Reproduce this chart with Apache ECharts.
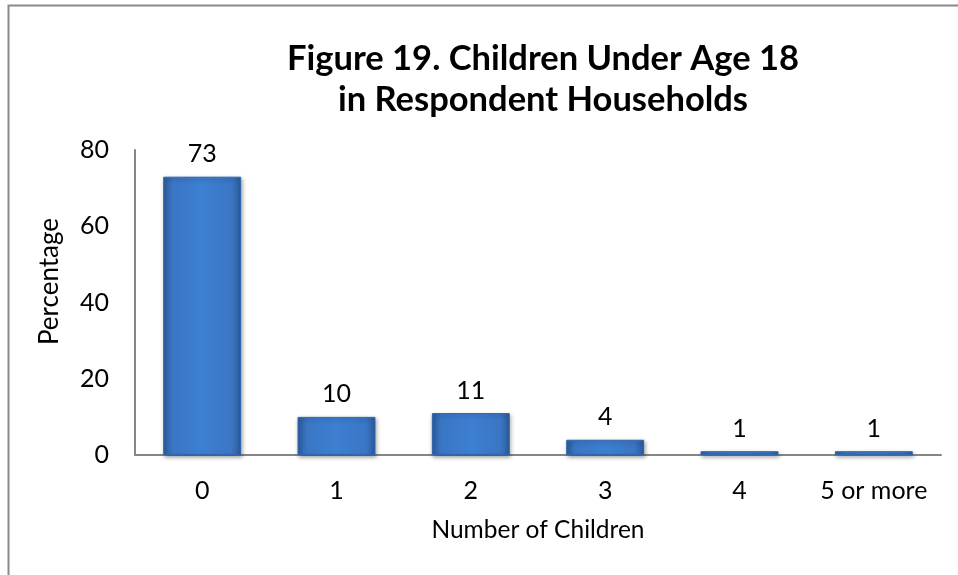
<!DOCTYPE html>
<html>
<head>
<meta charset="utf-8">
<script src="https://cdn.jsdelivr.net/npm/echarts@6/dist/echarts.min.js"></script>
<style>
  html, body { margin: 0; padding: 0; background: #ffffff; }
  #chart { width: 958px; height: 575px; }
</style>
</head>
<body>
<div id="chart"></div>
<script>
// Share of respondent households by number of children under 18
const categories = ['0', '1', '2', '3', '4', '5 or more'];
const percentages = [73, 10, 11, 4, 1, 1];
const yTicks = [0, 20, 40, 60, 80];

const titleLines = ['Figure 19. Children Under Age 18', 'in Respondent Households'];
const xAxisTitle = 'Number of Children';
const yAxisTitle = 'Percentage';

const FONT = 'Lato, "Open Sans", sans-serif';

const chart = echarts.init(document.getElementById('chart'), null, { renderer: 'canvas' });

const barFill = new echarts.graphic.LinearGradient(0, 0, 1, 0, [
  { offset: 0, color: '#2c5c9e' },
  { offset: 0.12, color: '#3a76c4' },
  { offset: 0.5, color: '#3d7fd2' },
  { offset: 0.88, color: '#3a76c4' },
  { offset: 1, color: '#2b5a9a' }
]);

chart.setOption({
  backgroundColor: '#ffffff',
  animation: false,
  title: {
    text: titleLines.join('\n'),
    left: 538,
    top: 33,
    textAlign: 'center',
    textStyle: {
      fontFamily: FONT,
      fontWeight: 'bold',
      fontSize: 34.5,
      lineHeight: 41,
      color: '#000000'
    }
  },
  graphic: [{
    type: 'rect',
    shape: { x: 8.5, y: 5.5, width: 1000, height: 700 },
    style: { fill: 'none', stroke: '#8a8a8a', lineWidth: 2 },
    silent: true
  }],
  grid: { left: 135, right: 17, top: 150, bottom: 120 },
  xAxis: {
    type: 'category',
    data: categories,
    name: xAxisTitle,
    nameLocation: 'middle',
    nameGap: 63,
    nameTextStyle: { fontFamily: FONT, fontSize: 24.5, color: '#000000' },
    axisLine: { lineStyle: { color: '#868686', width: 2 } },
    axisTick: { show: false },
    axisLabel: { fontFamily: FONT, fontSize: 25, color: '#000000', margin: 23, interval: 0 }
  },
  yAxis: {
    type: 'value',
    min: yTicks[0],
    max: yTicks[yTicks.length - 1],
    interval: yTicks[1] - yTicks[0],
    name: yAxisTitle,
    nameLocation: 'middle',
    nameGap: 72,
    nameTextStyle: { fontFamily: FONT, fontSize: 26, color: '#000000', padding: [0, 0, 0, 42] },
    axisLine: { show: true, lineStyle: { color: '#868686', width: 2 } },
    axisTick: { show: false },
    splitLine: { show: false },
    axisLabel: { fontFamily: FONT, fontSize: 25, color: '#000000', margin: 26 }
  },
  series: [{
    type: 'bar',
    data: percentages,
    barWidth: '58%',
    itemStyle: {
      color: barFill,
      borderColor: '#2f66ad',
      borderWidth: 1,
      shadowColor: 'rgba(0,0,0,0.35)',
      shadowBlur: 4,
      shadowOffsetX: 1,
      shadowOffsetY: 2
    },
    label: {
      show: true,
      position: 'top',
      distance: 10,
      fontFamily: FONT,
      fontSize: 25,
      color: '#000000'
    }
  }]
});
</script>
</body>
</html>
